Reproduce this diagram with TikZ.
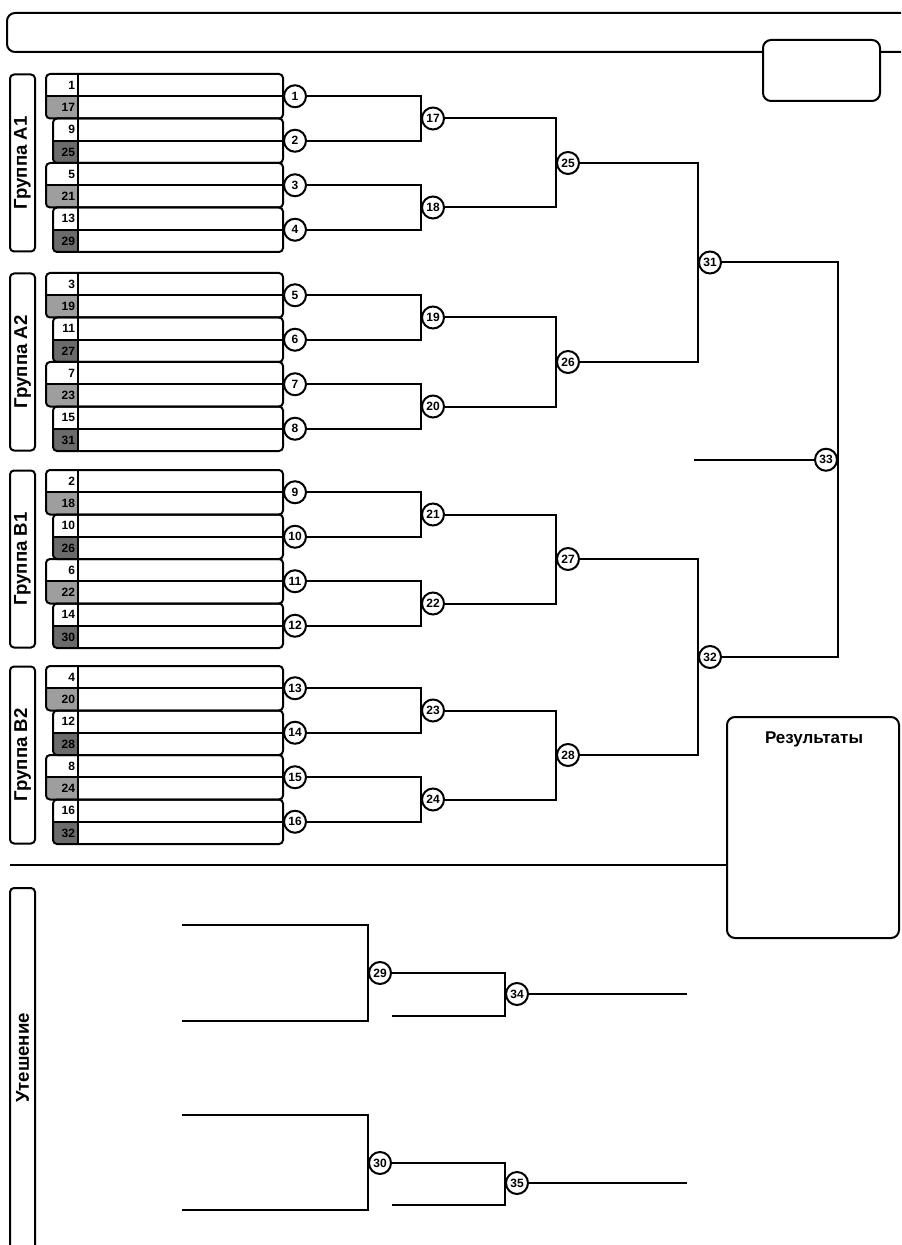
\documentclass[tikz,border=0pt]{standalone}
\usepackage{fontspec}
\setmainfont{Liberation Sans}
\definecolor{hell}{gray}{0.62}
\definecolor{dunkel}{gray}{0.42}

\def\gruppe#1#2#3#4{
	\node[gruppe] (g#3) at (22.5,{#1+89}) {#2};
	\foreach \s [count=\k from 0] in {#4} {
		\pgfmathtruncatemacro\u{\s+16}
		\pgfmathtruncatemacro\m{#3+\k}
		\pgfmathsetmacro\y{#1+44.5*\k}
		\ifodd\k \def\xl{53}\def\farbe{dunkel}\else\def\xl{46}\def\farbe{hell}\fi
		\begin{scope}
			\clip[rounded corners=2pt] (\xl,\y) rectangle (283,\y+44.5);
			\fill[\farbe] (\xl,\y+22.25) rectangle (78,\y+44.5);
		\end{scope}
		\draw[rounded corners=2pt] (\xl,\y) rectangle (283,\y+44.5);
		\draw (78,\y) -- (78,\y+44.5);
		\node[nummer] (s\s) at (76,\y+11.1) {\s};
		\node[nummer] (s\u) at (76,\y+33.4) {\u};
		\node[spiel] (m\m) at (295,\y+22.25) {\m};
		\draw (\xl,\y+22.25) -- (m\m.west);
	}
}

\begin{document}
\begin{tikzpicture}[x=0.5pt,y=-0.5pt,line width=1pt,
	spiel/.style={circle,draw,fill=white,minimum size=11pt,inner sep=0pt,font=\bfseries\fontsize{6}{6}\selectfont},
	nummer/.style={anchor=east,inner sep=0pt,font=\bfseries\fontsize{6}{6}\selectfont},
	gruppe/.style={draw,rounded corners=2pt,rotate=90,minimum width=88.5pt,minimum height=12.5pt,inner sep=0pt,font=\bfseries\fontsize{9.3}{10}\selectfont},
	feld/.style={draw,fill=white,rounded corners=4pt,inner sep=0pt}]
\useasboundingbox (0,0) rectangle (901,1245);
\clip (0,0) rectangle (901,1245);

% Kopf
\node[draw,rounded corners=4pt,minimum width=461.5pt,minimum height=19.5pt] (kopf) at (468.5,32.5) {};
\node[feld,minimum width=58.5pt,minimum height=30.5pt] (datum) at (821.5,70.5) {};

% Gruppen
\gruppe{74}{Группа A1}{1}{1,9,5,13}
\gruppe{273}{Группа A2}{5}{3,11,7,15}
\gruppe{470}{Группа B1}{9}{2,10,6,14}
\gruppe{666}{Группа B2}{13}{4,12,8,16}

% Runde 2 und 3
\foreach \g/\T in {0/74,1/273,2/470,3/666} {
	\pgfmathtruncatemacro\p{1+4*\g}
	\pgfmathtruncatemacro\q{2+4*\g}
	\pgfmathtruncatemacro\r{3+4*\g}
	\pgfmathtruncatemacro\t{4+4*\g}
	\pgfmathtruncatemacro\a{17+2*\g}
	\pgfmathtruncatemacro\b{18+2*\g}
	\pgfmathtruncatemacro\c{25+\g}
	\node[spiel] (m\a) at (433,\T+44.5) {\a};
	\node[spiel] (m\b) at (433,\T+133.5) {\b};
	\node[spiel] (m\c) at (568,\T+89) {\c};
	\draw (m\p.east) -| (m\a.west) |- (m\q.east);
	\draw (m\r.east) -| (m\b.west) |- (m\t.east);
	\draw (m\a.east) -| (m\c.west) |- (m\b.east);
}

% Halbfinale und Finale
\node[spiel] (m31) at (710,262.5) {31};
\node[spiel] (m32) at (710,657) {32};
\node[spiel] (m33) at (826,459.75) {33};
\draw (m25.east) -| (m31.west) |- (m26.east);
\draw (m27.east) -| (m32.west) |- (m28.east);
\draw (m31.east) -| (m33.east) |- (m32.east);
\path (m33.west) ++(-120,0) coordinate (dritte);
\draw (dritte) -- (m33.west);

% Ergebnisse
\node[feld,minimum width=86pt,minimum height=110.5pt] (res) at (813,827.5) {};
\node[font=\bfseries\fontsize{8.5}{9}\selectfont] (restitel) at (814,739) {Результаты};
\coordinate (trennL) at (10,865);
\draw (trennL) -- (trennL -| res.west);

% Trostrunde
\draw[rounded corners=2pt] (10,888) rectangle (35,1300);
\node[font=\bfseries\fontsize{9.3}{10}\selectfont,rotate=90] (trost) at (22.5,1058) {Утешение};
\coordinate (k1) at (182,925);
\coordinate (k2) at (182,1021);
\coordinate (k3) at (392,1016);
\coordinate (k4) at (687,994);
\coordinate (k5) at (182,1115);
\coordinate (k6) at (182,1210);
\coordinate (k7) at (392,1205);
\coordinate (k8) at (687,1183);
\node[spiel] (m29) at (380,973) {29};
\node[spiel] (m34) at (517,994) {34};
\node[spiel] (m30) at (380,1163) {30};
\node[spiel] (m35) at (517,1183) {35};
\draw (k1) -| (m29.west) |- (k2);
\draw (m29.east) -| (m34.west) |- (k3);
\draw (m34.east) -- (k4);
\draw (k5) -| (m30.west) |- (k6);
\draw (m30.east) -| (m35.west) |- (k7);
\draw (m35.east) -- (k8);
\end{tikzpicture}
\end{document}
